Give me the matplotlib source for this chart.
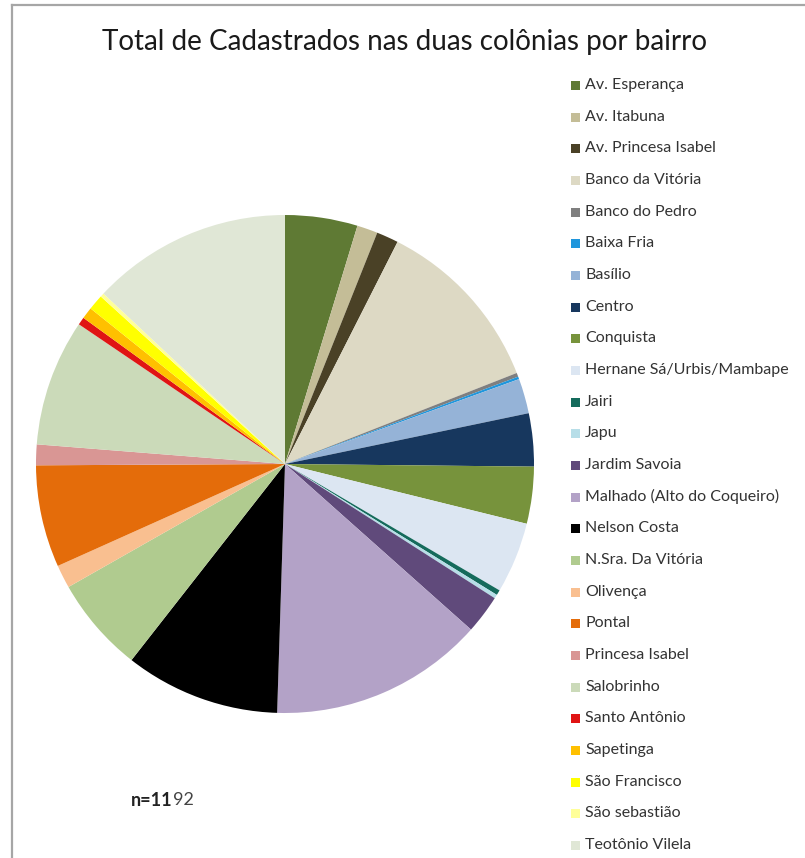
import matplotlib
matplotlib.use("Agg")
import matplotlib.pyplot as plt
from matplotlib.patches import Rectangle
from matplotlib.lines import Line2D

W, H = 805, 858

bairros = [
    "Av. Esperança", "Av. Itabuna", "Av. Princesa Isabel", "Banco da Vitória",
    "Banco do Pedro", "Baixa Fria", "Basílio", "Centro", "Conquista",
    "Hernane Sá/Urbis/Mambape", "Jairi", "Japu", "Jardim Savoia",
    "Malhado (Alto do Coqueiro)", "Nelson Costa", "N.Sra. Da Vitória",
    "Olivença", "Pontal", "Princesa Isabel", "Salobrinho", "Santo Antônio",
    "Sapetinga", "São Francisco", "São sebastião", "Teotônio Vilela",
]
cadastrados = [
    56, 16, 17, 138,
    3, 2, 27, 41, 44,
    55, 4, 3, 30,
    166, 120, 74,
    18, 79, 16, 98, 6,
    9, 12, 3, 155,
]
cores = [
    "#5f7a34", "#c4bd97", "#4a4126", "#ddd9c4",
    "#7f7f7f", "#1f96dc", "#95b3d7", "#17375e", "#77933c",
    "#dce6f2", "#156b5c", "#b7dee8", "#604a7b",
    "#b3a2c7", "#000000", "#b0cb8f",
    "#f9bf90", "#e46c0a", "#d99694", "#cbdab9", "#e01414",
    "#ffc000", "#ffff00", "#ffff99", "#e0e7d6",
]
titulo = "Total de Cadastrados nas duas colônias por bairro"

fig = plt.figure(figsize=(W / 100, H / 100), dpi=100)
fig.patch.set_facecolor("white")


def fx(px):
    return px / W


def fy(py):
    return 1 - py / H


# chart frame (top and left edges)
fig.add_artist(Line2D([fx(12), fx(805)], [fy(5), fy(5)], color="#a6a6a6", lw=1.6))
fig.add_artist(Line2D([fx(12), fx(12)], [fy(5), fy(858)], color="#a6a6a6", lw=1.6))

# pie
cx, cy, r = 285, 464, 249
ax = fig.add_axes([fx(cx - r), fy(cy + r), 2 * r / W, 2 * r / H])
wedges, _ = ax.pie(cadastrados, colors=cores, startangle=90, counterclock=False,
                   radius=1, wedgeprops=dict(linewidth=0))
ax.set_xlim(-1, 1)
ax.set_ylim(-1, 1)
ax.set_aspect("auto")
ax.axis("off")

fig.text(fx(404), fy(42), titulo, ha="center", va="center",
         fontsize=20, family="Lato", color="#1a1a1a")

# legend
y0, dy = 85, 31.67
for i, (w, nome) in enumerate(zip(wedges, bairros)):
    y = y0 + i * dy
    fig.add_artist(Rectangle((fx(571), fy(y + 5)), 9 / W, 9 / H,
                             transform=fig.transFigure,
                             facecolor=w.get_facecolor(), edgecolor="none"))
    fig.text(fx(585), fy(y), nome, ha="left", va="center",
             fontsize=11.5, family="Lato", color="#333333")

# sample size note: "n=11" bold, "92" regular right after it
t1 = fig.text(fx(131), fy(800), "n=11", ha="left", va="center",
              fontsize=13, family="Lato", weight="bold", color="#222222")
fig.add_artist(plt.Annotation("92", xy=(1, 0.5), xycoords=t1, ha="left", va="center",
                              fontsize=13, family="Lato", color="#444444"))

fig.savefig("out.png", dpi=100, facecolor="white")
